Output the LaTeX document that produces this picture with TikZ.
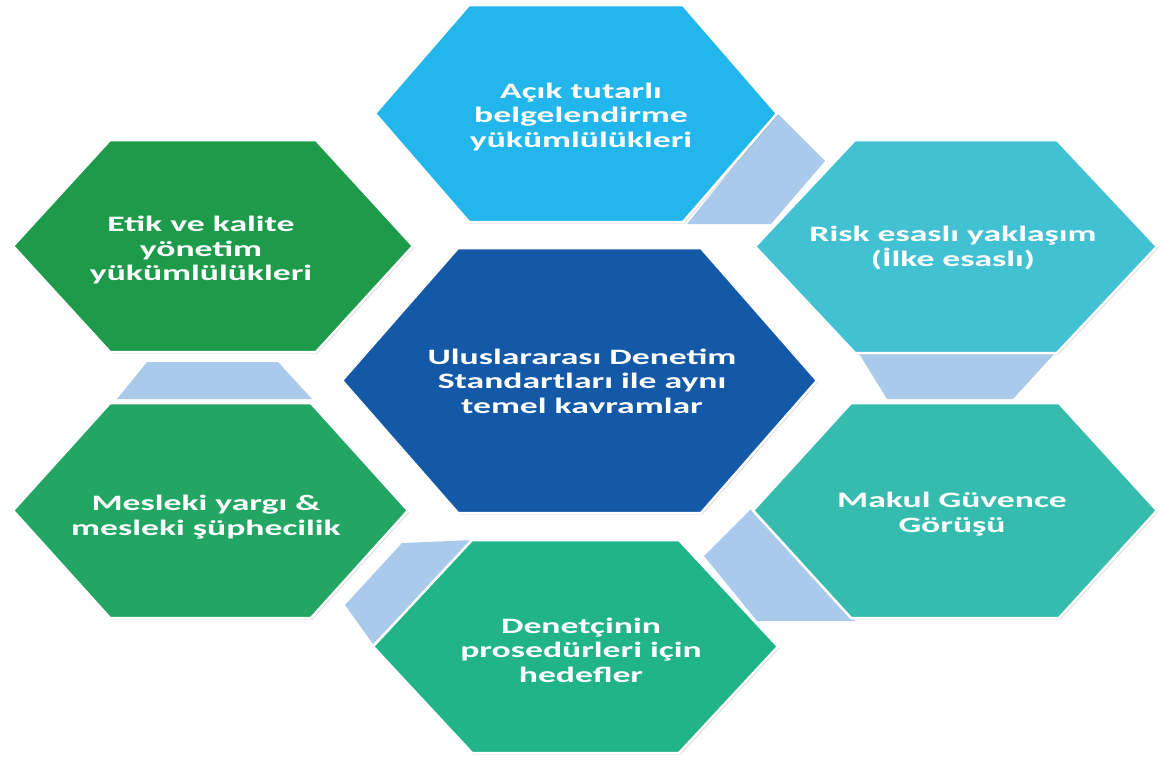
\documentclass[tikz,border=0pt]{standalone}
\usepackage{fontspec}
\usetikzlibrary{backgrounds, shadows}
\newfontfamily\hexfont[FakeStretch=1.62]{Carlito}
\definecolor{isaNavy}{RGB}{20,89,168}
\definecolor{isaSky}{RGB}{34,182,236}
\definecolor{isaTeal}{RGB}{66,193,210}
\definecolor{isaMint}{RGB}{54,188,175}
\definecolor{isaJade}{RGB}{34,180,137}
\definecolor{isaLeaf}{RGB}{35,165,100}
\definecolor{isaForest}{RGB}{29,155,74}
\definecolor{isaBand}{RGB}{170,202,236}

\begin{document}
\begin{tikzpicture}[x=1pt, y=-1pt,
    hextext/.style={text=white, align=center, font=\hexfont\bfseries\fontsize{22}{24.5}\selectfont},
    hexcell/.style={draw=white, line width=2.5pt, line join=miter,
      drop shadow={shadow xshift=1.5pt, shadow yshift=-1.5pt, opacity=0.3}},
    band/.style={fill=isaBand}
  ]
  \useasboundingbox (0,0) rectangle (1162,764);

  \node[hextext] (core) at (582,381) {Uluslararası Denetim\\Standartları ile aynı\\temel kavramlar};
  \node[hextext] (docs) at (581,117) {Açık tutarlı\\belgelendirme\\yükümlülükleri};
  \node[hextext] (risk) at (953,248) {Risk esaslı yaklaşım\\(İlke esaslı)};
  \node[hextext] (opinion) at (952,514) {Makul Güvence\\Görüşü};
  \node[hextext] (goals) at (581,650) {Denetçinin\\prosedürleri için\\hedefler};
  \node[hextext] (judgement) at (206,517) {Mesleki yargı \&\\mesleki şüphecilik};
  \node[hextext] (ethics) at (201,250) {Etik ve kalite\\yönetim\\yükümlülükleri};

  \begin{scope}[on background layer]
    \fill[band] (777,113) -- (825,161) -- (771,224) -- (687,224) -- cycle;
    \fill[band] (858,352) -- (1056,352) -- (1013,399) -- (887,399) -- cycle;
    \fill[band] (704,556) -- (751,509) -- (855,621) -- (757,621) -- cycle;
    \fill[band] (345,605) -- (402,543) -- (474,540) -- (373,644) -- cycle;
    \fill[band] (147,362) -- (278,362) -- (312,399) -- (117,399) -- cycle;
    \foreach \cx/\cy/\hw/\hh/\ins/\col in {
        576/113.5/201/108.5/94/isaSky, 213/246/200/106/97/isaForest,
        956/246.5/201/106.5/100/isaTeal, 579.5/380.5/237.5/132.5/116/isaNavy,
        210.5/510.5/197.5/107.5/97/isaLeaf, 955/510.5/202/107.5/98/isaMint,
        575.5/646.5/202.5/106.5/99/isaJade}
      \draw[hexcell, fill=\col] (\cx-\hw,\cy) -- (\cx-\hw+\ins,\cy-\hh) -- (\cx+\hw-\ins,\cy-\hh)
        -- (\cx+\hw,\cy) -- (\cx+\hw-\ins,\cy+\hh) -- (\cx-\hw+\ins,\cy+\hh) -- cycle;
  \end{scope}
\end{tikzpicture}
\end{document}
